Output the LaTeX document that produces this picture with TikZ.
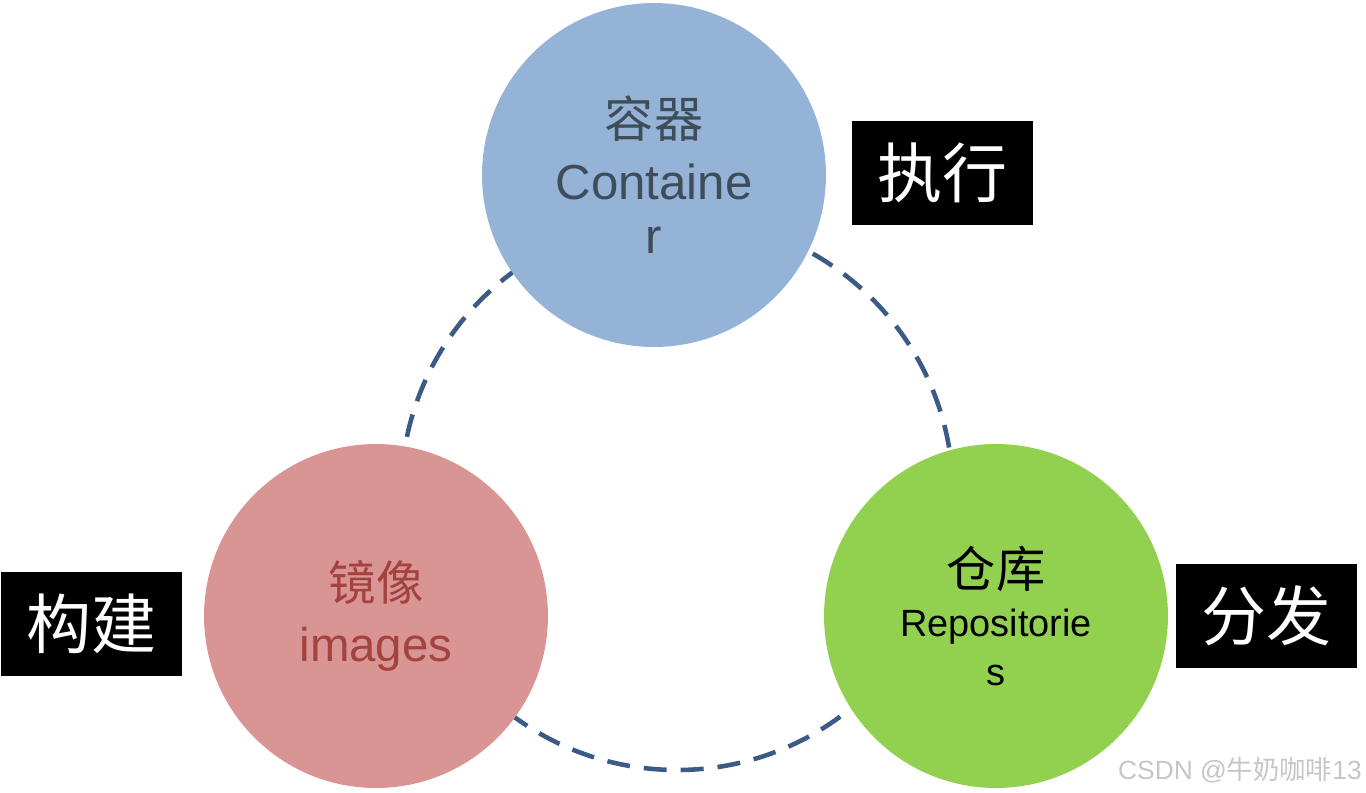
\documentclass[tikz,border=0pt]{standalone}
\usepackage{fontspec}
\setmainfont{Liberation Sans}
\newfontfamily\cjk{Noto Sans CJK SC}
\usepackage{tikz}
\usetikzlibrary{positioning}
\definecolor{contblue}{HTML}{95B3D7}
\definecolor{imgred}{HTML}{D99594}
\definecolor{repogreen}{HTML}{92D050}
\definecolor{ringblue}{HTML}{3B5B87}
\definecolor{conttext}{HTML}{3F4D5A}
\definecolor{imgtext}{HTML}{A3423F}
\tikzset{
  part/.style={circle, minimum size=6.88cm, inner sep=0pt, align=center},
  stage/.style={fill=black, text=white, minimum width=3.62cm, minimum height=2.08cm,
    inner sep=0pt, font=\cjk\fontsize{37}{40}\selectfont},
}

\begin{document}
\begin{tikzpicture}[x=0.02cm, y=-0.02cm]
			\useasboundingbox (0,0) rectangle (1366,792);
			
			% dashed ring joining the three parts
			\coordinate (hub) at (677,494);
			\draw[ringblue, line width=2.6pt, dash pattern=on 0.46cm off 0.28cm] (hub) circle (276);
			
			% the three parts
			\node[part, fill=contblue, text=conttext, font=\fontsize{28}{31}\selectfont] (cont) at (654,175)
				{{\cjk 容器}\\[4pt]Containe\\r};
			\node[part, fill=imgred, text=imgtext, font=\fontsize{27}{33}\selectfont] (img) at (376,616)
				{{\cjk 镜像}\\[2pt]images};
			\node[part, fill=repogreen, text=black, font=\fontsize{21.6}{26}\selectfont] (repo) at (996,616)
				{{\cjk\fontsize{28}{30}\selectfont 仓库}\\[2pt]Repositorie\\[2pt]s};
			
			% what happens at each part
			\node[stage, right=0.5cm of cont, yshift=0.04cm] (run) {执行};
			\node[stage, left=0.42cm of img, yshift=-0.16cm] (build) {构建};
			\node[stage, right=0.14cm of repo] (ship) {分发};
			
			% watermark
			\node[anchor=east, text=gray!45, font=\fontsize{15}{17}\selectfont, inner sep=0pt] (mark) at (1362,770)
				{CSDN @{\cjk 牛奶咖啡}13};
		\end{tikzpicture}
\end{document}
